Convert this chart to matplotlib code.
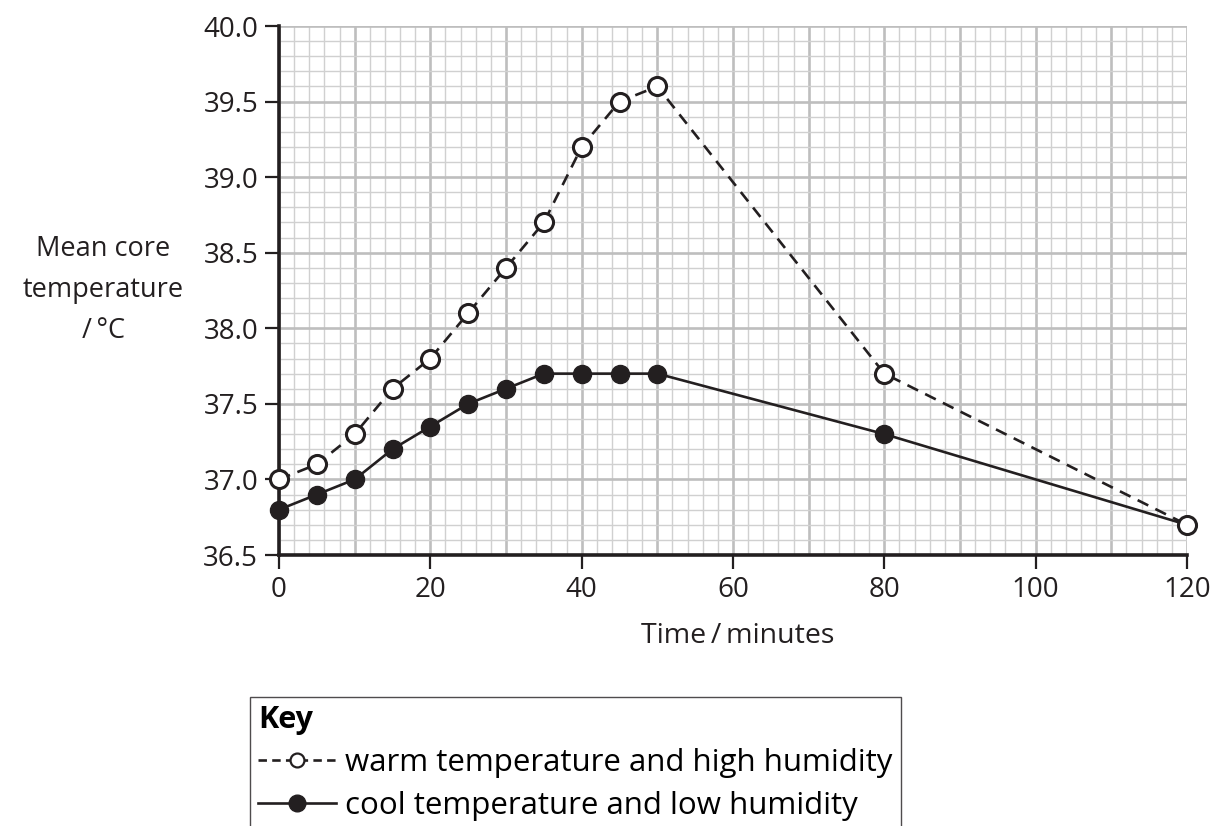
import numpy as np
import matplotlib
matplotlib.use("Agg")
import matplotlib.pyplot as plt
from matplotlib.lines import Line2D

plt.rcParams['font.family'] = ['Open Sans', 'DejaVu Sans']

# --- data ---
time_min = [0, 5, 10, 15, 20, 25, 30, 35, 40, 45, 50, 80, 120]
warm_humid = [37.0, 37.1, 37.3, 37.6, 37.8, 38.1, 38.4, 38.7, 39.2, 39.5, 39.6, 37.7, 36.7]
cool_dry = [36.8, 36.9, 37.0, 37.2, 37.35, 37.5, 37.6, 37.7, 37.7, 37.7, 37.7, 37.3, 36.7]

x_ticks = [0, 20, 40, 60, 80, 100, 120]
y_ticks = [36.5, 37.0, 37.5, 38.0, 38.5, 39.0, 39.5, 40.0]
y_tick_labels = [f"{v:.1f}" for v in y_ticks]

warm_label = "warm temperature and high humidity"
cool_label = "cool temperature and low humidity"

INK = '#231f20'

fig = plt.figure(figsize=(12.15, 8.26), dpi=100)
ax = fig.add_axes([279 / 1215, 1 - 555 / 826, (1187 - 279) / 1215, (555 - 26) / 826])

ax.set_xlim(0, 120)
ax.set_ylim(36.5, 40.0)

# graph paper grid
for xv in np.arange(0, 121, 2):
    major = xv % 10 == 0
    ax.axvline(xv, color='#bebebe' if major else '#d0d0d0',
               lw=1.9 if major else 1.0, zorder=0)
for k in range(36):
    yv = 36.5 + k * 0.1
    major = k % 5 == 0
    ax.axhline(yv, color='#bebebe' if major else '#d0d0d0',
               lw=1.9 if major else 1.0, zorder=0)

ax.plot(time_min, cool_dry, color=INK, lw=1.9, marker='o', ms=13,
        mfc=INK, mec=INK, zorder=3, clip_on=False, label=cool_label)
ax.plot(time_min, warm_humid, color=INK, lw=1.9, ls=(0, (4.5, 3)), marker='o', ms=13,
        mfc='white', mec=INK, mew=2.2, zorder=4, clip_on=False, label=warm_label)

for side in ['top', 'right']:
    ax.spines[side].set_visible(False)
for side in ['left', 'bottom']:
    ax.spines[side].set_linewidth(2.6)
    ax.spines[side].set_color(INK)
    ax.spines[side].set_zorder(2.5)

ax.set_xticks(x_ticks)
ax.set_yticks(y_ticks)
ax.set_yticklabels(y_tick_labels)
ax.tick_params(axis='both', direction='out', length=10, width=1.6, color=INK,
               labelsize=20, labelcolor=INK, pad=5)

fig.text(738 / 1215, 1 - 636 / 826, "Time\u2009/\u2009minutes", ha='center', va='center',
         fontsize=20.5, color=INK)
fig.text(103 / 1215, 1 - 290 / 826, "Mean core\ntemperature\n/\u2009°C", ha='center', va='center',
         fontsize=19.5, color=INK, linespacing=1.6, multialignment='center')

handles = [
    Line2D([], [], color=INK, lw=1.9, ls=(0, (3.2, 2)), marker='o', ms=10,
           mfc='white', mec=INK, mew=1.6),
    Line2D([], [], color=INK, lw=1.9, marker='o', ms=12,
           mfc=INK, mec=INK),
]
leg = fig.legend(handles, [warm_label, cool_label], loc='upper left',
                 bbox_to_anchor=(250 / 1215, 1 - 697 / 826), fontsize=22.5,
                 title="Key", title_fontproperties={'weight': 'bold', 'size': 22},
                 alignment='left', frameon=True, fancybox=False, edgecolor=INK,
                 handlelength=2.5, handletextpad=0.3, borderpad=0.25, labelspacing=0.42,
                 borderaxespad=0)
leg.get_frame().set_linewidth(1.0)

fig.savefig("out.png", dpi=100)
